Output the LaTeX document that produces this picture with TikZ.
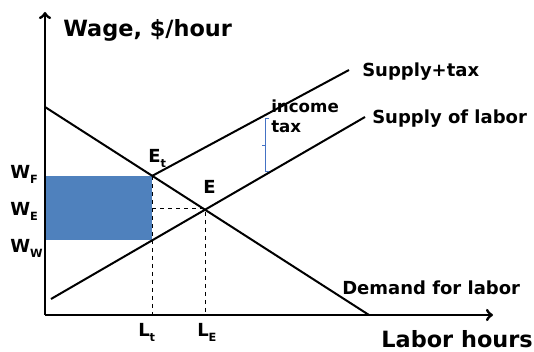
\documentclass[tikz,border=0pt]{standalone}
\usepackage{fontspec}
\setmainfont{DejaVu Sans}
\definecolor{taxfill}{HTML}{4F81BD}
\definecolor{taxbrace}{HTML}{4472C4}
\newcommand{\lowsub}[1]{\raisebox{-0.45ex}{\fontsize{8.5}{9}\selectfont #1}}
\begin{document}
\begin{tikzpicture}[x=0.75pt,y=0.75pt,
  lbl/.style={font=\bfseries\fontsize{13.5}{15}\selectfont, inner sep=0, anchor=base west},
  axislbl/.style={font=\bfseries\fontsize{16.8}{18}\selectfont, inner sep=0},
  curve/.style={line width=1.5pt},
  guide/.style={dashed, line width=0.75pt}]
\useasboundingbox (0,0) rectangle (534,352);
\coordinate (origin) at (45,37);
\coordinate (ytop) at (45,340);
\coordinate (xend) at (493,37);
\coordinate (dstart) at (45,245);
\coordinate (dend) at (369,37);
\coordinate (sstart) at (51,53);
\coordinate (send) at (365,235);
\coordinate (tend) at (349,282);
\coordinate (Et) at (152,176);
\coordinate (E) at (205,143);
\coordinate (Lt) at (152,37);
\coordinate (LE) at (205,37);
\coordinate (taxtop) at (265,234);
\coordinate (taxmid) at (265,207);
\coordinate (taxbot) at (265,181);
\fill[taxfill] (45,112) rectangle (Et);
\draw[guide] (Et) -- (Lt);
\draw[guide] (Et |- E) -- (E) -- (LE);
\draw[curve] (dstart) -- (dend);
\draw[curve] (sstart) -- (send);
\draw[curve] (Et) -- (tend);
\draw[taxbrace, line width=0.6pt] ([xshift=3]taxtop) -- (taxtop) -- (taxbot) -- ([xshift=3]taxbot);
\draw[taxbrace, line width=0.6pt] (taxmid) -- ([xshift=-2]taxmid);
\draw[line width=2.2pt, ->] (origin) -- (ytop);
\draw[line width=2.2pt, ->] (origin) -- (xend);
\node[axislbl, anchor=base west] (wage) at (63,315) {Wage, \$/hour};
\node[axislbl, anchor=base east] (hours) at (533,4) {Labor hours};
\node[lbl] (supplytax) at (362,275) {Supply+tax};
\node[lbl] (supply) at (372,228) {Supply of labor};
\node[lbl] (demand) at (342,57) {Demand for labor};
\node[lbl, align=left, font=\bfseries\fontsize{12.5}{15}\selectfont] (tax) at (271,219) {income\\tax};
\node[lbl] (wf) at (10,173) {W\lowsub{F}};
\node[lbl] (we) at (10,136) {W\lowsub{E}};
\node[lbl] (ww) at (10,99) {W\lowsub{W}};
\node[lbl] (etlbl) at (148,189) {E\lowsub{t}};
\node[lbl] (elbl) at (203,158) {E};
\node[lbl] (ltlbl) at (138,15) {L\lowsub{t}};
\node[lbl] (lelbl) at (197,15) {L\lowsub{E}};
\end{tikzpicture}
\end{document}
